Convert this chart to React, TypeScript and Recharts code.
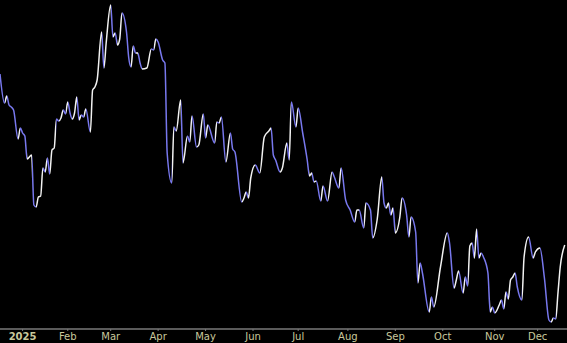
import React from "react";
import { LineChart, Line, XAxis, YAxis } from "recharts";

// trading session index (0 = first session of 2025)
const sessions = [
  -10, -8, -7, -6, -5, -4, -2, -1, 0, 1, 2, 4, 5, 6, 7, 8, 9, 10, 11, 12, 13, 14, 15, 16, 17, 18, 19, 20,
  21, 22, 23, 24, 25, 26, 27, 28, 30, 31, 32, 33, 35, 36, 37, 39, 40, 41, 42, 43, 44, 46, 47, 48, 49, 50,
  51, 52, 53, 55, 57, 58, 59, 60, 62, 63, 64, 66, 67, 68, 70, 71, 73, 74, 75, 77, 78, 80, 81, 82, 85, 86,
  87, 88, 90, 92, 93, 94, 97, 98, 99, 100, 101, 103, 105, 107, 109, 110, 111, 112, 114, 115, 117, 118,
  119, 121, 122, 124, 126, 127, 128, 129, 130, 132, 133, 135, 137, 138, 140, 141, 143, 145, 147, 148,
  149, 151, 152, 154, 155, 157, 159, 160, 161, 162, 163, 164, 165, 167, 168, 170, 171, 172, 174, 175,
  176, 177, 180, 181, 182, 185, 188, 189, 191, 192, 193, 195, 196, 197, 198, 199, 200, 201, 202, 203,
  204, 206, 207, 208, 209, 211, 212, 213, 214, 215, 216, 217, 218, 219, 221, 222, 224, 226, 227, 229,
  231, 233, 234, 235, 236, 237, 238, 240,
];

const closes = [
  255, 226, 233, 224, 222, 219, 190, 201, 196, 193, 170, 174, 124, 122, 132, 133, 161, 157, 171, 155,
  179, 181, 210, 208, 211, 219, 215, 227, 216, 210, 216, 232, 209, 214, 212, 220, 197, 239, 242, 249,
  297, 261, 286, 324, 292, 296, 284, 290, 316, 297, 271, 262, 283, 276, 276, 266, 260, 261, 280, 279,
  290, 287, 269, 266, 176, 146, 202, 198, 229, 166, 193, 187, 213, 182, 184, 215, 191, 204, 186, 207,
  206, 212, 167, 196, 180, 177, 127, 131, 137, 131, 151, 164, 156, 192, 198, 201, 174, 169, 157, 161,
  186, 169, 227, 202, 221, 196, 169, 153, 156, 147, 148, 128, 143, 128, 157, 152, 141, 161, 129, 119,
  107, 119, 119, 101, 126, 119, 91, 110, 152, 126, 121, 126, 114, 121, 96, 112, 131, 114, 92, 112, 97,
  46, 66, 56, 17, 32, 22, 62, 96, 86, 41, 49, 58, 36, 52, 43, 83, 86, 71, 100, 71, 76, 72, 56, 17, 22,
  16, 24, 29, 20, 37, 30, 49, 52, 56, 42, 29, 72, 92, 71, 77, 81, 51, 9, 7, 11, 10, 36, 62, 84,
];

const monthTicks = [0, 20, 39, 60, 81, 102, 122, 144, 165, 186, 209, 228];
const monthLabels = ["2025", "Feb", "Mar", "Apr", "May", "Jun", "Jul", "Aug", "Sep", "Oct", "Nov", "Dec"];

const W = 567;
const H = 343;
const UP = "#f2f2f2";
const DOWN = "#7878ee";

const data = sessions.map((s, i) => ({ s, v: closes[i] }));

// hard colour stops: white while rising, blue while falling
const first = sessions[0];
const last = sessions[sessions.length - 1];
const stops: { off: number; color: string }[] = [];
for (let i = 0; i < data.length - 1; i++) {
  const c = closes[i + 1] >= closes[i] ? UP : DOWN;
  stops.push({ off: (sessions[i] - first) / (last - first), color: c });
  stops.push({ off: (sessions[i + 1] - first) / (last - first), color: c });
}

const MonthTick = (props: any) => {
  const { x, payload } = props;
  const idx = monthTicks.indexOf(payload.value);
  const label = monthLabels[idx] ?? "";
  return (
    <text
      x={x}
      y={340}
      textAnchor="middle"
      fill="#c8c89c"
      fontSize={10}
      fontWeight={idx === 0 ? "bold" : "normal"}
      fontFamily="DejaVu Sans, sans-serif"
    >
      {label}
    </text>
  );
};

export default function App() {
  return (
    <div style={{ position: "absolute", left: 0, top: 0, width: W, height: H, background: "#000" }}>
      <LineChart width={W} height={H} data={data} margin={{ top: 0, right: 0, bottom: 0, left: 0 }}>
        <defs>
          <linearGradient id="dirGrad" x1="0" y1="0" x2="1" y2="0">
            {stops.map((st, i) => (
              <stop key={i} offset={st.off} stopColor={st.color} />
            ))}
          </linearGradient>
        </defs>
        <XAxis
          dataKey="s"
          type="number"
          domain={[-10, 241]}
          ticks={monthTicks}
          interval={0}
          height={14}
          axisLine={{ stroke: "#7a7a7a", strokeWidth: 1.5 }}
          tickLine={{ stroke: "#7a7a7a" }}
          tickSize={2}
          tick={<MonthTick />}
          allowDataOverflow
        />
        <YAxis hide domain={[0, 329]} type="number" />
        <Line
          type="monotone"
          dataKey="v"
          stroke="url(#dirGrad)"
          strokeWidth={1.5}
          dot={false}
          activeDot={false}
          isAnimationActive={false}
        />
      </LineChart>
    </div>
  );
}
